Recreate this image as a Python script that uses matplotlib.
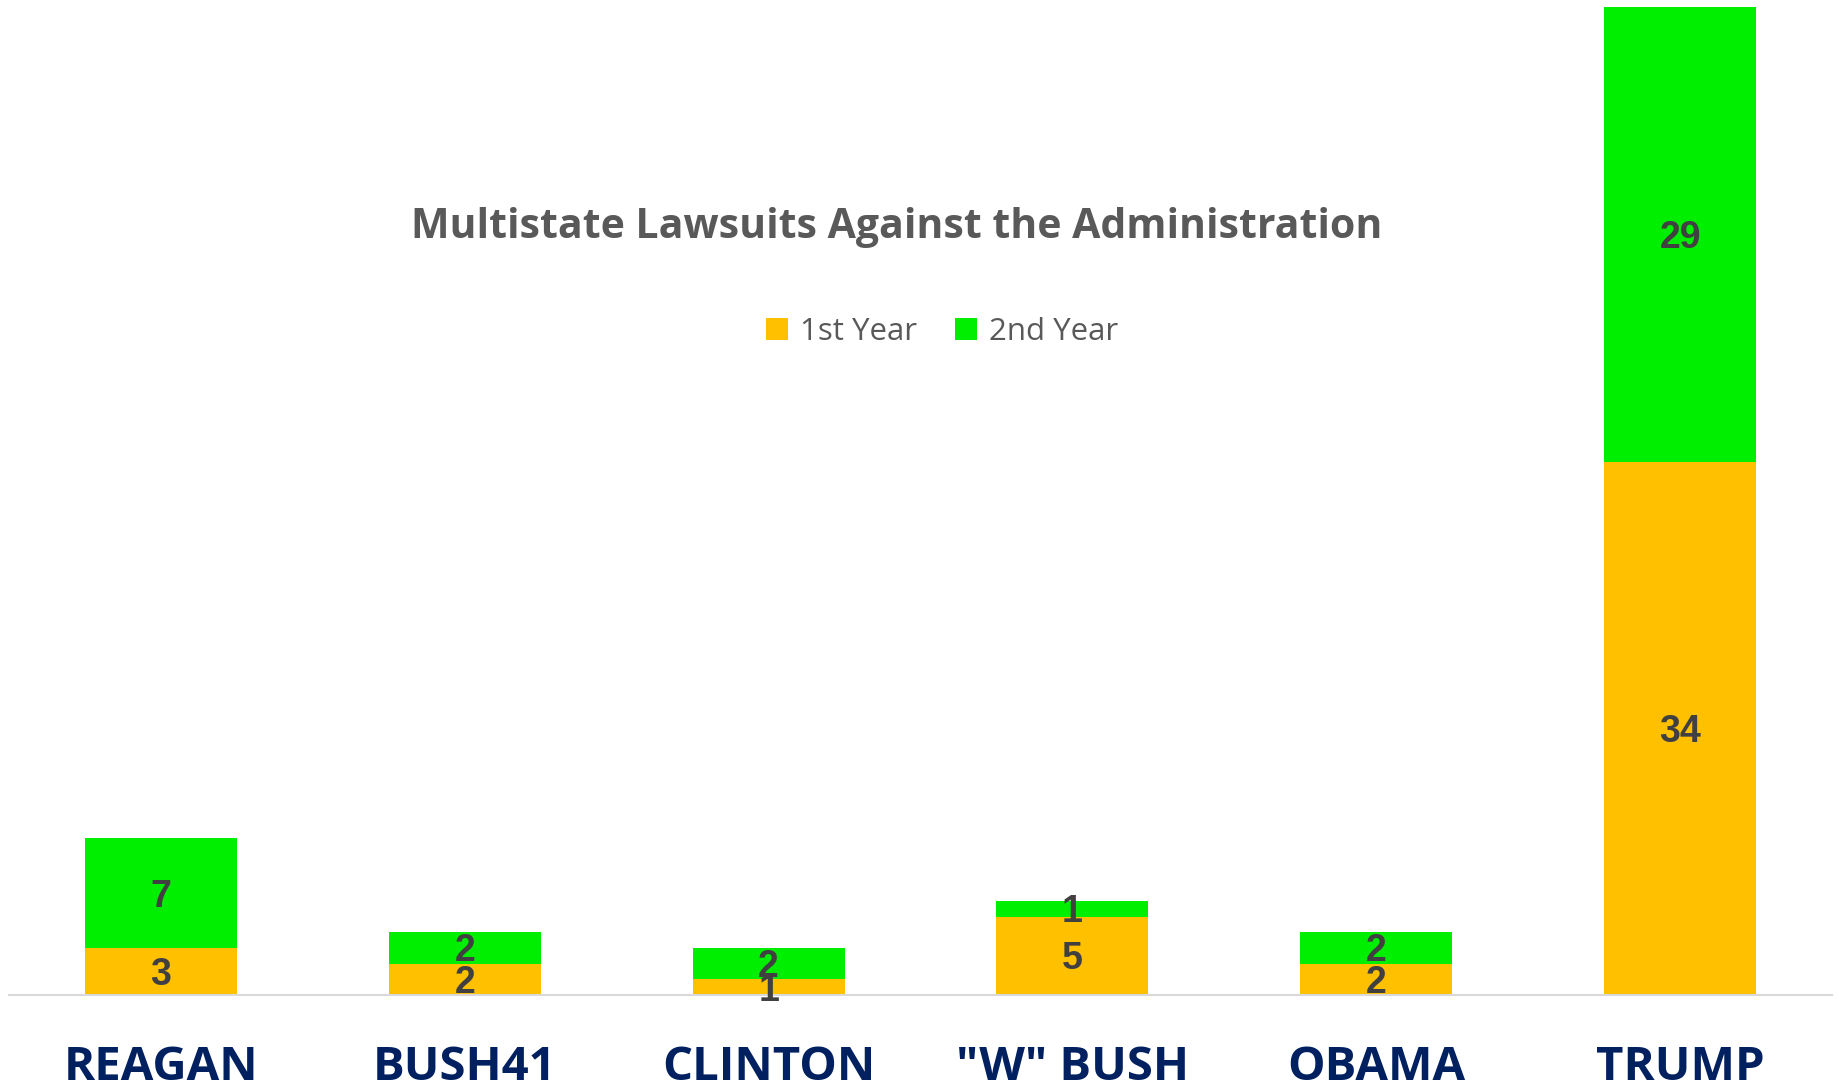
import matplotlib
matplotlib.use("Agg")
import matplotlib.pyplot as plt
import numpy as np

categories = ["REAGAN", "BUSH41", "CLINTON", "\"W\" BUSH", "OBAMA", "TRUMP"]
first_year = [3, 2, 1, 5, 2, 34]
second_year = [7, 2, 2, 1, 2, 29]
series_names = ["1st Year", "2nd Year"]
title = "Multistate Lawsuits Against the Administration"

W, H = 1839, 1086
fig = plt.figure(figsize=(W / 100, H / 100), dpi=100)
ax = fig.add_axes([9 / W, 91 / H, (1832 - 9) / W, (H - 91) / H])

x = np.arange(len(categories))
c1, c2 = "#FFC000", "#00EE00"
b1 = ax.bar(x, first_year, width=0.5, color=c1, label=series_names[0], zorder=2)
b2 = ax.bar(x, second_year, width=0.5, bottom=first_year, color=c2, label=series_names[1], zorder=2)

for bars, vals, bottoms in ((b1, first_year, [0] * len(x)), (b2, second_year, first_year)):
    for xi, v, b in zip(x, vals, bottoms):
        ax.annotate(str(v), (xi, b + v / 2), xytext=(0, -2.5), textcoords="offset points",
                    ha="center", va="center", fontsize=27,
                    fontweight="bold", color="#404040", family="Liberation Sans", zorder=3)

ax.set_xlim(-0.5, len(categories) - 0.5)
ax.set_ylim(0, 63 * (995 / 988))
for s in ["top", "right", "left"]:
    ax.spines[s].set_visible(False)
ax.spines["bottom"].set_color("#D9D9D9")
ax.spines["bottom"].set_linewidth(1.5)
ax.set_yticks([])
ax.set_xticks(x)
ax.set_xticklabels(categories, fontsize=34, fontweight="bold", color="#002060", family="Open Sans")
ax.tick_params(axis="x", length=0, pad=35)

fig.text(897 / W, 1 - 227 / H, title, ha="center", va="center", fontsize=29.5,
         fontweight="bold", color="#595959", family="Open Sans")

leg = ax.legend(loc="center", bbox_to_anchor=(942 / W, 1 - 332 / H), bbox_transform=fig.transFigure,
                ncol=2, frameon=False, fontsize=22.5, handlelength=0.7, handleheight=0.7,
                columnspacing=1.2, handletextpad=0.4)
for t in leg.get_texts():
    t.set_color("#595959")
    t.set_family("Open Sans")

fig.savefig("out.png", dpi=100, facecolor="white")
